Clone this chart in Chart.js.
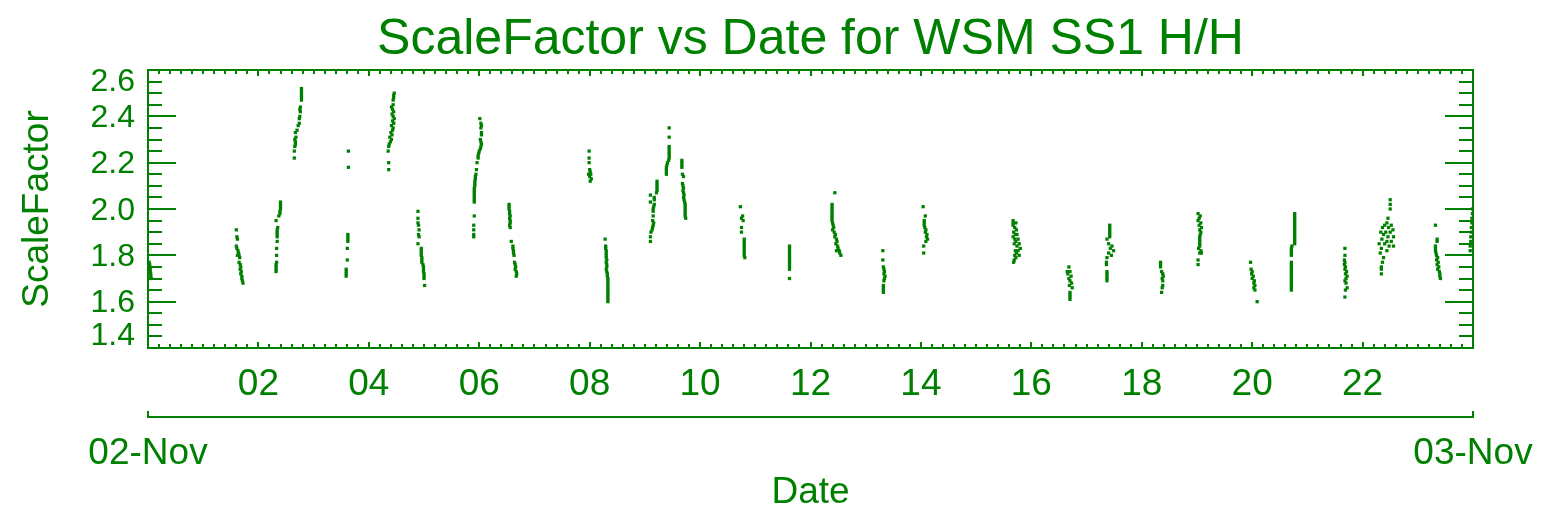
<!DOCTYPE html>
<html>
<head>
<meta charset="utf-8">
<title>ScaleFactor vs Date for WSM SS1 H/H</title>
<script src="https://cdn.jsdelivr.net/npm/chart.js"></script>
<style>
    html, body { margin: 0; padding: 0; background: #fff; }
    .plot-box { position: relative; width: 1544px; height: 517px; }
</style>
</head>
<body>
<div class="plot-box"><canvas id="scaleChart"></canvas></div>
<script>
    // axis labels
    var hourLabels = ['02', '04', '06', '08', '10', '12', '14', '16', '18', '20', '22'];
    var dayLabels = ['02-Nov', '03-Nov'];
    var scaleLabels = ['1.4', '1.6', '1.8', '2.0', '2.2', '2.4', '2.6'];

    // ScaleFactor samples for each pass, as [hour of day, value]
    var pass00 = [[0.02,1.77],[0.03,1.76],[0.03,1.75],[0.04,1.74],[0.04,1.73],[0.05,1.72],[0.05,1.71],[0.06,1.70]];
    var pass01 = [[1.60,1.91],[1.61,1.88],[1.62,1.87],[1.60,1.84],[1.61,1.83],[1.63,1.82],[1.64,1.81],[1.62,1.80],[1.65,1.80],[1.66,1.79],[1.65,1.77],[1.67,1.76],[1.68,1.75],[1.67,1.74],[1.69,1.73],[1.68,1.72],[1.70,1.71],[1.70,1.70],[1.71,1.69],[1.72,1.68]];
    var pass02 = [[2.32,1.73],[2.32,1.74],[2.32,1.75],[2.32,1.76],[2.33,1.77],[2.33,1.80],[2.33,1.83],[2.34,1.86],[2.34,1.88],[2.34,1.89],[2.34,1.90],[2.34,1.91],[2.35,1.92],[2.32,1.95],[2.37,1.97],[2.39,1.98],[2.39,1.99],[2.40,2.00],[2.40,2.01],[2.40,2.02],[2.40,2.03]];
    var pass03 = [[2.65,2.22],[2.65,2.25],[2.66,2.27],[2.67,2.28],[2.67,2.29],[2.66,2.30],[2.68,2.31],[2.67,2.33],[2.70,2.34],[2.72,2.36],[2.74,2.37],[2.74,2.39],[2.75,2.40],[2.76,2.42],[2.75,2.43],[2.76,2.44],[2.78,2.47],[2.78,2.48],[2.78,2.49],[2.78,2.50],[2.78,2.51],[2.78,2.52]];
    var pass04 = [[3.59,1.71],[3.59,1.72],[3.59,1.73],[3.59,1.74],[3.61,1.78],[3.61,1.83],[3.62,1.86],[3.62,1.87],[3.62,1.88],[3.62,1.89],[3.63,2.18],[3.63,2.25]];
    var pass05 = [[4.36,2.17],[4.36,2.20],[4.35,2.25],[4.36,2.27],[4.37,2.28],[4.39,2.29],[4.41,2.30],[4.38,2.31],[4.42,2.32],[4.40,2.33],[4.43,2.34],[4.44,2.35],[4.41,2.36],[4.45,2.37],[4.43,2.38],[4.46,2.39],[4.44,2.40],[4.42,2.41],[4.45,2.42],[4.43,2.43],[4.41,2.44],[4.44,2.45],[4.44,2.47],[4.45,2.48],[4.45,2.49],[4.46,2.50]];
    var pass06 = [[4.89,1.99],[4.89,1.96],[4.89,1.94],[4.90,1.93],[4.91,1.91],[4.90,1.89],[4.91,1.88],[4.89,1.85],[4.95,1.83],[4.95,1.82],[4.95,1.81],[4.95,1.80],[4.96,1.79],[4.96,1.78],[4.96,1.77],[4.98,1.76],[4.99,1.75],[4.99,1.74],[4.99,1.73],[5.00,1.72],[5.00,1.71],[5.00,1.70],[5.01,1.67]];
    var pass07 = [[5.90,1.88],[5.90,1.89],[5.90,1.91],[5.90,1.93],[5.91,1.97],[5.91,2.03],[5.91,2.04],[5.91,2.05],[5.91,2.06],[5.91,2.07],[5.91,2.08],[5.91,2.09],[5.92,2.10],[5.92,2.11],[5.92,2.12],[5.93,2.13],[5.93,2.14],[5.94,2.15],[5.95,2.17],[5.96,2.20],[5.98,2.22],[5.98,2.23],[5.99,2.24],[6.00,2.25],[6.02,2.26],[6.03,2.27],[6.04,2.28],[6.03,2.29],[6.02,2.30],[6.04,2.32],[6.04,2.33],[6.03,2.35],[6.04,2.36],[6.03,2.37],[6.01,2.39]];
    var pass08 = [[6.54,2.02],[6.54,2.01],[6.54,2.00],[6.55,1.99],[6.55,1.98],[6.56,1.97],[6.55,1.96],[6.56,1.95],[6.56,1.94],[6.55,1.93],[6.56,1.92],[6.58,1.86],[6.61,1.84],[6.61,1.83],[6.62,1.82],[6.62,1.81],[6.63,1.80],[6.64,1.77],[6.65,1.76],[6.66,1.75],[6.65,1.74],[6.67,1.73],[6.68,1.72],[6.67,1.71]];
    var pass09 = [[7.99,2.25],[7.99,2.22],[7.99,2.20],[8.00,2.17],[8.01,2.16],[7.98,2.15],[8.02,2.15],[8.00,2.14],[8.03,2.13],[8.01,2.12]];
    var pass10 = [[8.28,1.87],[8.29,1.84],[8.29,1.83],[8.30,1.82],[8.30,1.81],[8.30,1.80],[8.30,1.79],[8.31,1.78],[8.30,1.77],[8.31,1.76],[8.31,1.75],[8.30,1.74],[8.31,1.73],[8.32,1.72],[8.32,1.71],[8.33,1.70],[8.33,1.69],[8.33,1.68],[8.33,1.67],[8.33,1.66],[8.33,1.65],[8.33,1.64],[8.33,1.63],[8.33,1.62],[8.33,1.61],[8.33,1.60]];
    var pass11 = [[9.10,1.86],[9.10,1.88],[9.11,1.90],[9.13,1.91],[9.14,1.92],[9.15,1.93],[9.16,1.94],[9.14,1.95],[9.15,1.97],[9.15,1.99],[9.15,2.00],[9.16,2.01],[9.10,2.03],[9.17,2.02],[9.17,2.04],[9.17,2.05],[9.10,2.06],[9.21,2.07],[9.22,2.08],[9.22,2.09],[9.22,2.10],[9.22,2.11],[9.22,2.12]];
    var pass12 = [[9.39,2.15],[9.39,2.16],[9.39,2.17],[9.39,2.18],[9.40,2.19],[9.41,2.20],[9.43,2.21],[9.44,2.22],[9.44,2.23],[9.44,2.24],[9.44,2.25],[9.44,2.26],[9.44,2.27],[9.44,2.31],[9.44,2.35]];
    var pass13 = [[9.67,2.21],[9.67,2.20],[9.67,2.19],[9.67,2.18],[9.68,2.15],[9.70,2.14],[9.68,2.11],[9.69,2.10],[9.70,2.09],[9.69,2.08],[9.70,2.07],[9.71,2.06],[9.70,2.05],[9.71,2.04],[9.72,2.03],[9.73,2.02],[9.73,2.01],[9.73,2.00],[9.73,1.99],[9.73,1.98],[9.73,1.97],[9.74,1.96]];
    var pass14 = [[10.73,2.01],[10.77,1.97],[10.75,1.96],[10.78,1.95],[10.75,1.92],[10.75,1.90],[10.80,1.87],[10.80,1.86],[10.80,1.85],[10.80,1.84],[10.80,1.83],[10.80,1.82],[10.80,1.81],[10.80,1.80],[10.81,1.79]];
    var pass15 = [[11.62,1.84],[11.62,1.83],[11.62,1.82],[11.62,1.81],[11.62,1.80],[11.62,1.79],[11.62,1.78],[11.62,1.77],[11.62,1.76],[11.62,1.75],[11.62,1.74],[11.62,1.70]];
    var pass16 = [[12.44,2.07],[12.39,2.02],[12.39,2.01],[12.39,2.00],[12.39,1.99],[12.39,1.98],[12.39,1.97],[12.39,1.96],[12.39,1.95],[12.40,1.94],[12.41,1.93],[12.42,1.92],[12.40,1.91],[12.43,1.90],[12.45,1.89],[12.44,1.88],[12.47,1.87],[12.48,1.86],[12.46,1.85],[12.49,1.84],[12.50,1.83],[12.47,1.82],[12.52,1.82],[12.53,1.81],[12.55,1.80]];
    var pass17 = [[13.31,1.82],[13.31,1.78],[13.32,1.75],[13.33,1.74],[13.34,1.73],[13.33,1.72],[13.35,1.71],[13.34,1.70],[13.33,1.69],[13.32,1.67],[13.32,1.66],[13.32,1.65],[13.32,1.64]];
    var pass18 = [[14.04,2.01],[14.08,1.97],[14.06,1.95],[14.06,1.94],[14.06,1.93],[14.07,1.92],[14.09,1.91],[14.08,1.90],[14.11,1.89],[14.10,1.88],[14.12,1.87],[14.09,1.86],[14.05,1.84],[14.05,1.81]];
    var pass19 = [[15.67,1.95],[15.67,1.94],[15.72,1.94],[15.67,1.93],[15.70,1.92],[15.73,1.91],[15.68,1.90],[15.71,1.89],[15.74,1.89],[15.67,1.88],[15.70,1.87],[15.76,1.87],[15.72,1.86],[15.78,1.85],[15.69,1.85],[15.74,1.84],[15.80,1.83],[15.71,1.82],[15.76,1.82],[15.73,1.81],[15.70,1.80],[15.78,1.80],[15.72,1.79],[15.69,1.78],[15.68,1.77]];
    var pass20 = [[16.68,1.75],[16.65,1.73],[16.70,1.73],[16.66,1.72],[16.72,1.71],[16.68,1.70],[16.70,1.69],[16.73,1.68],[16.69,1.67],[16.74,1.66],[16.70,1.64],[16.70,1.63],[16.70,1.62],[16.70,1.61]];
    var pass21 = [[17.42,1.93],[17.42,1.92],[17.42,1.91],[17.42,1.90],[17.42,1.89],[17.42,1.88],[17.37,1.87],[17.40,1.85],[17.46,1.84],[17.43,1.83],[17.49,1.82],[17.40,1.81],[17.45,1.80],[17.37,1.79],[17.36,1.77],[17.36,1.76],[17.37,1.73],[17.37,1.72],[17.37,1.71],[17.37,1.70],[17.37,1.69]];
    var pass22 = [[18.34,1.77],[18.34,1.76],[18.34,1.75],[18.36,1.73],[18.38,1.72],[18.39,1.71],[18.37,1.70],[18.38,1.69],[18.38,1.67],[18.37,1.66],[18.36,1.64]];
    var pass23 = [[19.02,1.98],[19.06,1.97],[19.04,1.96],[19.02,1.95],[19.07,1.94],[19.04,1.93],[19.08,1.92],[19.05,1.91],[19.07,1.90],[19.06,1.89],[19.05,1.88],[19.05,1.87],[19.05,1.86],[19.05,1.85],[19.05,1.84],[19.03,1.83],[19.07,1.82],[19.05,1.81],[19.08,1.81],[19.02,1.78],[19.02,1.76]];
    var pass24 = [[19.97,1.77],[19.98,1.74],[20.00,1.73],[19.99,1.72],[20.02,1.71],[20.00,1.70],[20.04,1.69],[20.03,1.68],[20.05,1.67],[20.03,1.66],[20.05,1.65],[20.09,1.60]];
    var pass25 = [[20.71,1.65],[20.71,1.66],[20.71,1.67],[20.71,1.68],[20.71,1.69],[20.71,1.70],[20.71,1.71],[20.71,1.72],[20.71,1.73],[20.71,1.74],[20.71,1.75],[20.71,1.76],[20.71,1.77],[20.71,1.80],[20.71,1.81],[20.71,1.82],[20.71,1.83],[20.72,1.84],[20.77,1.85],[20.77,1.86],[20.77,1.87],[20.77,1.88],[20.77,1.89],[20.77,1.90],[20.77,1.91],[20.77,1.92],[20.77,1.93],[20.77,1.94],[20.77,1.95],[20.77,1.96],[20.77,1.97],[20.77,1.98]];
    var pass26 = [[21.68,1.83],[21.68,1.80],[21.67,1.78],[21.68,1.77],[21.67,1.76],[21.69,1.75],[21.68,1.74],[21.71,1.73],[21.69,1.72],[21.72,1.71],[21.70,1.70],[21.68,1.69],[21.70,1.68],[21.72,1.66],[21.69,1.65],[21.68,1.62]];
    var pass27 = [[22.50,2.04],[22.50,2.02],[22.50,2.00],[22.46,1.96],[22.44,1.94],[22.40,1.93],[22.52,1.93],[22.36,1.92],[22.47,1.92],[22.55,1.91],[22.33,1.90],[22.42,1.90],[22.50,1.90],[22.38,1.89],[22.46,1.88],[22.56,1.88],[22.35,1.87],[22.44,1.86],[22.52,1.86],[22.30,1.85],[22.40,1.85],[22.48,1.84],[22.56,1.84],[22.34,1.83],[22.44,1.82],[22.32,1.81],[22.38,1.79],[22.36,1.77],[22.34,1.75],[22.34,1.74],[22.34,1.72]];
    var pass28 = [[23.32,1.93],[23.35,1.87],[23.35,1.86],[23.32,1.84],[23.32,1.83],[23.32,1.82],[23.33,1.81],[23.34,1.80],[23.36,1.79],[23.34,1.78],[23.37,1.77],[23.35,1.76],[23.38,1.75],[23.36,1.74],[23.39,1.73],[23.40,1.72],[23.40,1.71],[23.41,1.70]];
    var pass29 = [[23.95,1.82],[23.95,1.84],[23.96,1.86],[23.96,1.88],[23.97,1.90],[23.97,1.92],[23.98,1.94],[23.98,1.96],[23.99,1.98],[23.99,2.00]];

    var passes = [pass00, pass01, pass02, pass03, pass04, pass05, pass06, pass07, pass08, pass09,
                  pass10, pass11, pass12, pass13, pass14, pass15, pass16, pass17, pass18, pass19,
                  pass20, pass21, pass22, pass23, pass24, pass25, pass26, pass27, pass28, pass29];

    var points = [];
    passes.forEach(function (pass) {
        pass.forEach(function (p) { points.push({ x: p[0], y: p[1] }); });
    });

    var INK = '#008000';
    Chart.defaults.color = INK;
    Chart.defaults.font.family = '"Liberation Sans", Arial, sans-serif';

    // closed box with inward ticks, y labels and the end marks of the date axis
    var boxAxes = {
        id: 'boxAxes',
        afterDraw: function (chart) {
            var ctx = chart.ctx, a = chart.chartArea;
            var xs = chart.scales.x, ys = chart.scales.y, xd = chart.scales.xDay;
            ctx.save();
            ctx.strokeStyle = INK;
            ctx.lineWidth = 2;
            ctx.beginPath();
            ctx.moveTo(a.left, a.top);
            ctx.lineTo(a.right, a.top);
            ctx.lineTo(a.right, a.bottom);

            // y: minor every 0.05, major every 0.2
            var nY = Math.round((ys.max - ys.min) / 0.05);
            for (var i = 0; i <= nY; i++) {
                var py = Math.round(ys.getPixelForValue(ys.min + i * 0.05));
                var len = (i % 4 === 0) ? 28 : 14;
                ctx.moveTo(a.left, py); ctx.lineTo(a.left + len, py);
                ctx.moveTo(a.right, py); ctx.lineTo(a.right - len, py);
            }
            // x: minor every 12 min, major every 2 h
            var nX = Math.round((xs.max - xs.min) / 0.2);
            for (var j = 0; j <= nX; j++) {
                var px = Math.round(xs.getPixelForValue(xs.min + j * 0.2));
                var l = (j % 10 === 0) ? 6 : 4;
                ctx.moveTo(px, a.top); ctx.lineTo(px, a.top + l);
                ctx.moveTo(px, a.bottom); ctx.lineTo(px, a.bottom - l);
            }
            xd.ticks.forEach(function (t) {
                var px = Math.round(xd.getPixelForValue(t.value));
                ctx.moveTo(px, xd.top); ctx.lineTo(px, xd.top - 6);
            });
            ctx.stroke();

            // y tick labels, kept inside the box at both ends
            ctx.fillStyle = INK;
            ctx.font = '32px "Liberation Sans", Arial, sans-serif';
            ctx.textAlign = 'right';
            ctx.textBaseline = 'middle';
            ys.ticks.forEach(function (t, k) {
                var py = ys.getPixelForValue(t.value) + 2;
                py = Math.min(Math.max(py, a.top + 12), a.bottom - 12);
                ctx.fillText(scaleLabels[k], a.left - 13, py);
            });
            ctx.restore();
        }
    };

    var ctx = document.getElementById('scaleChart').getContext('2d');
    var scaleChart = new Chart(ctx, {
        type: 'scatter',
        data: {
            datasets: [{
                label: 'ScaleFactor',
                data: points,
                pointStyle: 'rect',
                pointRadius: 2.3,
                pointBorderWidth: 0,
                backgroundColor: INK,
                borderColor: INK
            }]
        },
        options: {
            responsive: true,
            maintainAspectRatio: false,
            animation: false,
            events: [],
            layout: { padding: { left: 0, right: 71, top: 0, bottom: 0 } },
            plugins: {
                legend: { display: false },
                tooltip: { enabled: false },
                title: {
                    display: true,
                    text: 'ScaleFactor vs Date for WSM SS1 H/H',
                    fullSize: false,
                    color: INK,
                    font: { size: 50, weight: 'normal' },
                    padding: { top: 10, bottom: 0 }
                }
            },
            scales: {
                x: {
                    type: 'linear',
                    position: 'bottom',
                    weight: 0,
                    min: 0,
                    max: 24,
                    grid: { display: false, drawTicks: false },
                    border: { display: true, color: INK, width: 2 },
                    ticks: {
                        stepSize: 2,
                        autoSkip: false,
                        maxRotation: 0,
                        padding: 15,
                        font: { size: 37 },
                        callback: function (value) {
                            return hourLabels[value / 2 - 1] || '';
                        }
                    },
                    afterFit: function (scale) { scale.height = 69; }
                },
                xDay: {
                    type: 'linear',
                    axis: 'x',
                    position: 'bottom',
                    weight: 1,
                    min: 0,
                    max: 24,
                    grid: { display: false, drawTicks: false },
                    border: { display: true, color: INK, width: 2 },
                    ticks: {
                        stepSize: 24,
                        autoSkip: false,
                        maxRotation: 0,
                        padding: 15,
                        font: { size: 37 },
                        callback: function (value, index) {
                            return dayLabels[index];
                        }
                    },
                    title: {
                        display: true,
                        text: 'Date',
                        font: { size: 37 },
                        padding: { top: 0, bottom: 2 }
                    },
                    // the end labels may run past the box; don't let them shrink it
                    afterFit: function (scale) {
                        scale.height = 100;
                        scale.paddingLeft = 0;
                        scale.paddingRight = 0;
                    }
                },
                y: {
                    type: 'linear',
                    position: 'left',
                    min: 1.4,
                    max: 2.6,
                    grid: { display: false, drawTicks: false },
                    border: { display: true, color: INK, width: 2 },
                    ticks: { stepSize: 0.2, display: false },
                    title: {
                        display: true,
                        text: 'ScaleFactor',
                        font: { size: 37 },
                        padding: { top: 16, bottom: 0 }
                    },
                    afterFit: function (scale) { scale.width = 148; }
                }
            }
        },
        plugins: [boxAxes]
    });
</script>
</body>
</html>
